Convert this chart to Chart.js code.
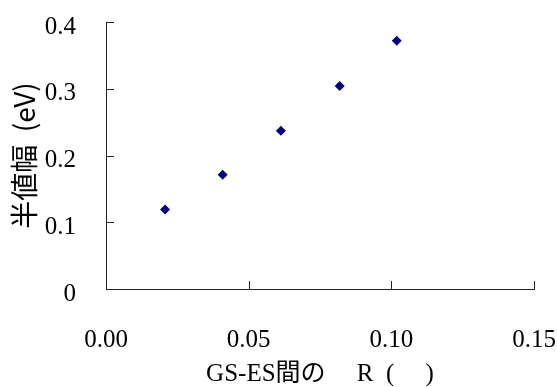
<!DOCTYPE html>
<html>
<head>
<meta charset="utf-8">
<script src="https://cdn.jsdelivr.net/npm/chart.js@4/dist/chart.umd.min.js"></script>
<style>
  body { margin: 0; background: #fff; }
</style>
</head>
<body>
<canvas id="chart" width="557" height="387"></canvas>
<script>
// values
let xValues = [0.0207, 0.0409, 0.0613, 0.0819, 0.1019];
let yValues = [0.119, 0.171, 0.237, 0.304, 0.372];

let xTickLabels = ['0.00', '0.05', '0.10', '0.15'];
let yTickLabels = ['0', '0.1', '0.2', '0.3', '0.4'];

let xTitle = 'GS-ES間の\u3000 R  (\u3000 )';
let yTitle = '半値幅  (eV)';

let axisColor = '#222';
let serifFont = '"Liberation Serif", "Noto Sans CJK JP", serif';
let jpFont = '"Noto Sans CJK JP", sans-serif';

let points = xValues.map((x, i) => ({x: x, y: yValues[i]}));

// tick marks on the inside of the axes, like the original
let inwardTicks = {
  id: 'inwardTicks',
  afterDraw(chart) {
    let ctx = chart.ctx;
    let xs = chart.scales.x;
    let ys = chart.scales.y;
    ctx.save();
    ctx.strokeStyle = axisColor;
    ctx.lineWidth = 1;
    ctx.beginPath();
    xs.ticks.forEach((t, i) => {
      let px = Math.round(xs.getPixelForTick(i)) + 0.5;
      ctx.moveTo(px, xs.top);
      ctx.lineTo(px, xs.top - 8);
    });
    ys.ticks.forEach((t, i) => {
      let py = Math.round(ys.getPixelForTick(i)) + 0.5;
      ctx.moveTo(ys.right, py);
      ctx.lineTo(ys.right + 8, py);
    });
    ctx.stroke();
    ctx.restore();
  }
};

let ctx = document.getElementById('chart');

let chart = new Chart(ctx, {
  type: 'scatter',
  data: {
    datasets: [{
      data: points,
      pointStyle: 'rectRot',
      pointRadius: 5,
      pointHoverRadius: 5,
      backgroundColor: '#000080',
      borderColor: '#000080',
      borderWidth: 0
    }]
  },
  options: {
    responsive: false,
    animation: false,
    layout: {
      padding: {top: 22, right: 23, left: 0, bottom: 0}
    },
    plugins: {
      legend: {display: false},
      tooltip: {enabled: false}
    },
    scales: {
      x: {
        type: 'linear',
        min: 0,
        max: 0.15,
        afterFit: s => {
          s.height = 98;
          s.paddingLeft = 0;
          s.paddingRight = 0;
        },
        afterBuildTicks: s => {
          s.ticks = xTickLabels.map(v => ({value: parseFloat(v)}));
        },
        grid: {display: false},
        border: {display: true, color: axisColor, width: 1},
        ticks: {
          padding: 28,
          color: '#000',
          font: {family: serifFont, size: 25},
          maxRotation: 0,
          callback: (v, i) => xTickLabels[i]
        },
        title: {
          display: true,
          text: xTitle,
          color: '#000',
          font: {family: serifFont, size: 25, lineHeight: 1},
          padding: {top: 0, bottom: 0}
        }
      },
      y: {
        type: 'linear',
        min: 0,
        max: 0.4,
        afterFit: s => {
          s.width = 106;
          s.paddingTop = 0;
          s.paddingBottom = 0;
        },
        afterBuildTicks: s => {
          s.ticks = yTickLabels.map(v => ({value: parseFloat(v)}));
        },
        grid: {display: false},
        border: {display: true, color: axisColor, width: 1},
        ticks: {
          padding: 22,
          color: '#000',
          font: {family: serifFont, size: 25},
          labelOffset: 5,
          callback: (v, i) => yTickLabels[i]
        },
        title: {
          display: true,
          text: yTitle,
          color: '#000',
          font: {family: jpFont, size: 28, lineHeight: 1},
          padding: {top: 10, bottom: 0}
        }
      }
    }
  },
  plugins: [inwardTicks]
});
</script>
</body>
</html>
